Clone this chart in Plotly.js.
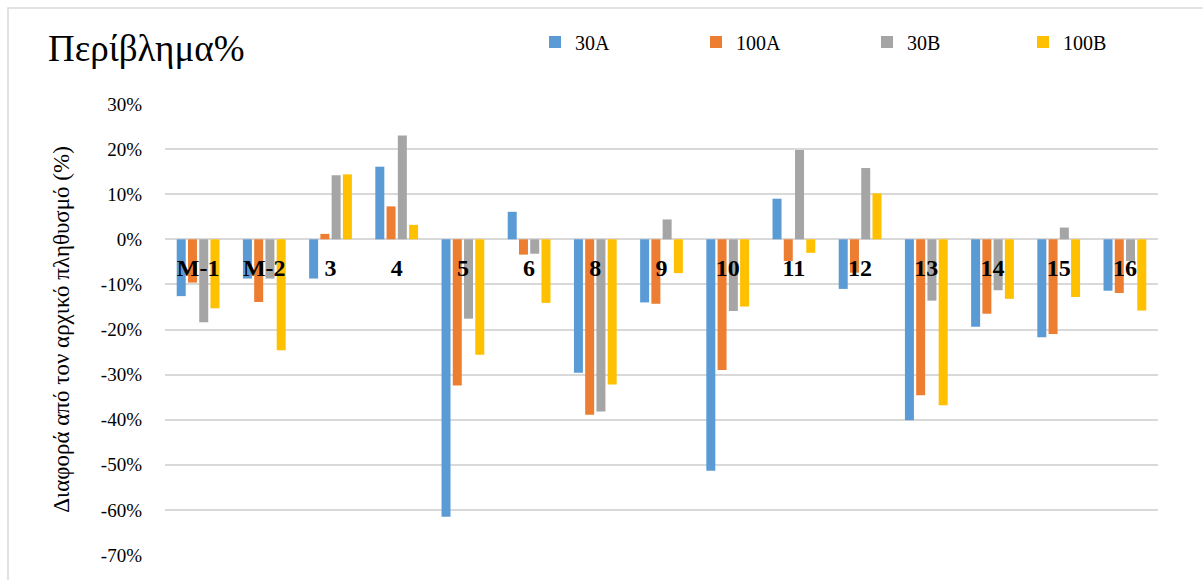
<!DOCTYPE html>
<html>
<head>
<meta charset="utf-8">
<script src="https://cdn.plot.ly/plotly-3.0.1.min.js"></script>
<style>
  body { margin: 0; background: #fff; }
  #chart { width: 1203px; height: 580px; }
</style>
</head>
<body>
<div id="chart"></div>
<script>
// categories along the x axis
const categories = ['M-1', 'M-2', '3', '4', '5', '6', '8', '9', '10', '11', '12', '13', '14', '15', '16'];

// difference from the initial population, in %
const s30A  = [-12.6, -8.7, -8.7, 16.1, -61.5, 6.1, -29.6, -14.0, -51.3, 9.0, -11.0, -40.1, -19.4, -21.7, -11.4];
const s100A = [-9.6, -13.9, 1.2, 7.3, -32.4, -3.4, -38.9, -14.3, -29.0, -4.8, -7.4, -34.6, -16.5, -21.0, -11.9];
const s30B  = [-18.4, -8.7, 14.2, 23.0, -17.6, -3.2, -38.2, 4.4, -15.9, 19.8, 15.8, -13.6, -11.3, 2.6, -4.8];
const s100B = [-15.3, -24.6, 14.4, 3.2, -25.6, -14.1, -32.2, -7.5, -14.9, -3.0, 10.2, -36.8, -13.2, -12.8, -15.8];

// y ticks, written as Excel shows them (plain hyphen)
const yTickVals = [-70, -60, -50, -40, -30, -20, -10, 0, 10, 20, 30];
const yTickText = ['-70%', '-60%', '-50%', '-40%', '-30%', '-20%', '-10%', '0%', '10%', '20%', '30%'];

const seriesNames = ['30A', '100A', '30B', '100B'];
const colors = ['#5B9BD5', '#ED7D31', '#A5A5A5', '#FFC000'];

const serif = 'Liberation Serif, DejaVu Serif, serif';
const plotL = 165, plotW = 993, plotT = 104, plotH = 451;

// one legend per series so each entry sits where Excel put it
const legendIds = ['legend', 'legend2', 'legend3', 'legend4'];
const legendLeft = [535, 696, 867, 1023];

const data = [s30A, s100A, s30B, s100B].map((vals, i) => ({
    type: 'bar',
    name: seriesNames[i],
    x: categories,
    y: vals,
    legend: legendIds[i],
    marker: { color: colors[i] }
}));

const layout = {
    width: 1203,
    height: 580,
    margin: { l: plotL, r: 1203 - plotL - plotW, t: plotT, b: 580 - plotT - plotH },
    paper_bgcolor: '#fff',
    plot_bgcolor: '#fff',
    barmode: 'group',
    bargap: 0.32,
    bargroupgap: 0.2,
    font: { family: serif, color: '#000' },
    title: {
        text: 'Περίβλημα%',
        font: { family: serif, size: 37, color: '#000' },
        xref: 'container', yref: 'container',
        x: 48 / 1203, xanchor: 'left',
        y: 1 - 48 / 580, yanchor: 'middle'
    },
    showlegend: true,
    xaxis: {
        type: 'category',
        anchor: 'free',
        position: 0.7,
        showgrid: false,
        showline: false,
        zeroline: false,
        ticks: '',
        ticklabelstandoff: 12,
        tickfont: { family: serif, size: 24, color: '#000', weight: 'bold' },
        fixedrange: true
    },
    yaxis: {
        range: [-70, 30],
        tickvals: yTickVals,
        ticktext: yTickText,
        showgrid: true,
        gridcolor: '#D9D9D9',
        gridwidth: 2,
        zeroline: true,
        zerolinecolor: '#D9D9D9',
        zerolinewidth: 2,
        showline: false,
        ticks: '',
        ticklabelstandoff: 22,
        tickfont: { family: serif, size: 19, color: '#000' },
        title: {
            text: 'Διαφορά από τον αρχικό πληθυσμό (%)',
            font: { family: serif, size: 23, color: '#000' },
            standoff: 24
        },
        automargin: false,
        fixedrange: true
    },
    shapes: [{
        type: 'rect',
        xref: 'paper', yref: 'paper',
        x0: (8 - plotL) / plotW, x1: 1.2,
        y0: -0.2, y1: 1 + (plotT - 8) / plotH,
        line: { color: '#D9D9D9', width: 1.5 },
        fillcolor: 'rgba(0,0,0,0)',
        layer: 'below'
    }]
};

legendIds.forEach((id, i) => {
    layout[id] = {
        orientation: 'h',
        x: (legendLeft[i] - plotL) / plotW, xanchor: 'left',
        y: 1 + (plotT - 42) / plotH, yanchor: 'middle',
        itemwidth: 30,
        font: { family: serif, size: 20, color: '#000' },
        bgcolor: 'rgba(0,0,0,0)'
    };
});

Plotly.newPlot('chart', data, layout, { displayModeBar: false, staticPlot: true });
</script>
</body>
</html>
